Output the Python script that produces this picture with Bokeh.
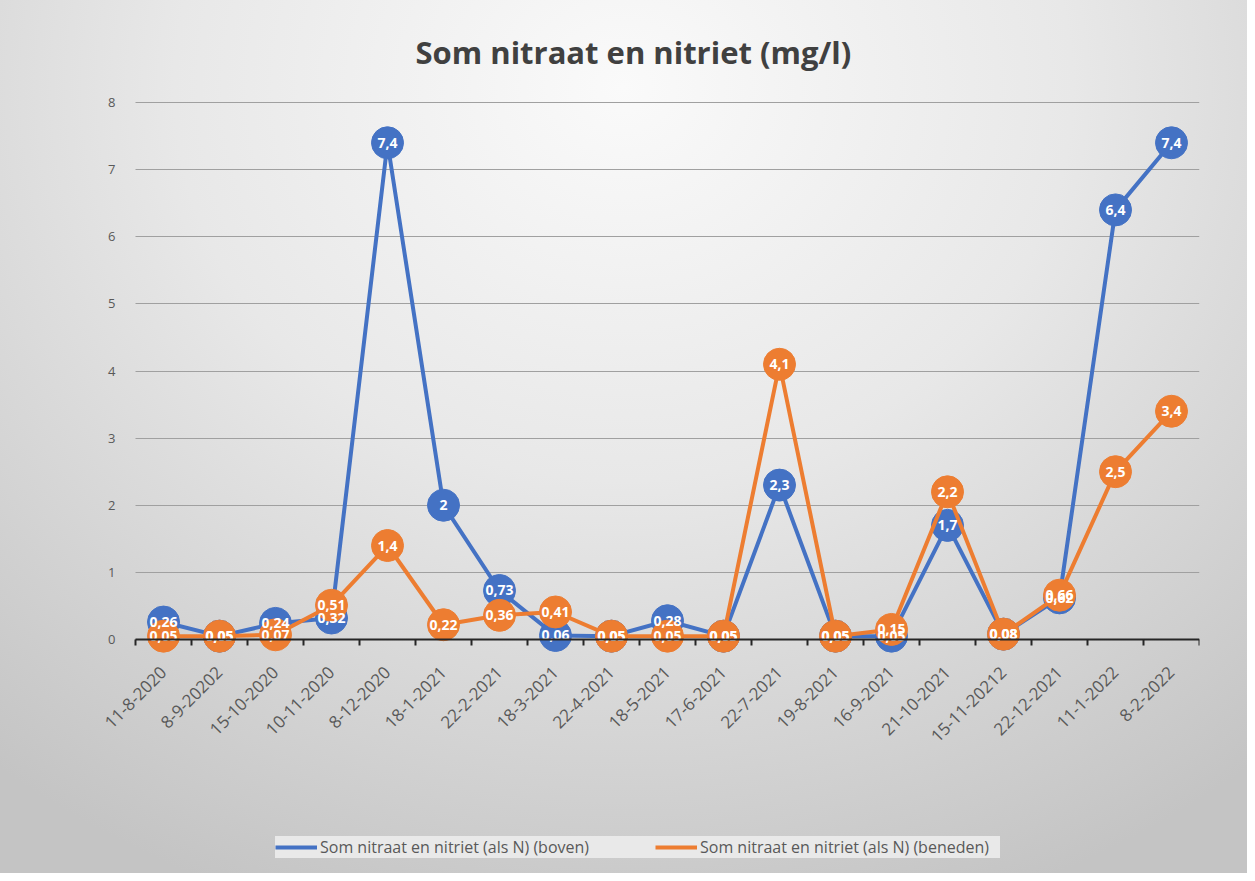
import math
from bokeh.plotting import figure
from bokeh.models import Range1d, FixedTicker, Legend, LegendItem
from bokeh.embed import file_html
from bokeh.resources import INLINE
from bokeh.core.properties import value

categories = ["11-8-2020", "8-9-20202", "15-10-2020", "10-11-2020", "8-12-2020",
              "18-1-2021", "22-2-2021", "18-3-2021", "22-4-2021", "18-5-2021",
              "17-6-2021", "22-7-2021", "19-8-2021", "16-9-2021", "21-10-2021",
              "15-11-20212", "22-12-2021", "11-1-2022", "8-2-2022"]
boven = [0.26, 0.05, 0.24, 0.32, 7.4, 2, 0.73, 0.06, 0.05, 0.28,
         0.05, 2.3, 0.05, 0.05, 1.7, 0.08, 0.62, 6.4, 7.4]
beneden = [0.05, 0.05, 0.07, 0.51, 1.4, 0.22, 0.36, 0.41, 0.05, 0.05,
           0.05, 4.1, 0.05, 0.15, 2.2, 0.08, 0.66, 2.5, 3.4]
y_ticks = [0, 1, 2, 3, 4, 5, 6, 7, 8]
series_names = ["Som nitraat en nitriet (als N) (boven)",
                "Som nitraat en nitriet (als N) (beneden)"]

BLUE = "#4472C4"
ORANGE = "#ED7D31"
FONT = "Open Sans"


def fmt(v):
    return ("%g" % v).replace(".", ",")


n = len(categories)
xs = list(range(n))

# layout (figure pixels)
W, H = 1247, 873
TOP, BOTTOM = 92, 10
LEFT = 10
AX_LEFT, AX_RIGHT, AX_TOP, AX_ZERO = 135, 1199, 102, 639
RIGHT = W - AX_RIGHT
px_per_unit = (AX_ZERO - AX_TOP) / y_ticks[-1]
px_per_cat = (AX_RIGHT - AX_LEFT) / n
y_end = y_ticks[-1] + (AX_TOP - TOP) / px_per_unit
y_start = y_end - (H - TOP - BOTTOM) / px_per_unit
x_start = -0.5 - (AX_LEFT - LEFT) / px_per_cat

p = figure(width=W, height=H, output_backend="svg", toolbar_location=None,
           x_range=Range1d(x_start, n - 0.5), y_range=Range1d(y_start, y_end),
           min_border_left=LEFT, min_border_right=RIGHT, min_border_top=TOP,
           min_border_bottom=BOTTOM)

p.background_fill_alpha = 0
p.border_fill_alpha = 0
p.outline_line_color = None
p.styles = {"background": "radial-gradient(ellipse 80% 100% at 50% 10%, #fafafa 0%, #e8e8e8 45%, #c4c4c4 100%)"}

p.title.text = "Som nitraat en nitriet (mg/l)"
p.title.align = "left"
p.title.offset = 405
p.title.text_font = FONT
p.title.text_font_size = "31px"
p.title.text_font_style = "bold"
p.title.text_color = "#404040"
p.title.standoff = 40

p.xgrid.visible = False
p.ygrid.ticker = FixedTicker(ticks=y_ticks)
p.ygrid.cross_bounds = (-0.5, n - 0.5)
p.ygrid.grid_line_color = "#a0a0a0"
p.ygrid.grid_line_width = 1

p.yaxis.ticker = FixedTicker(ticks=y_ticks)
p.yaxis.fixed_location = -0.5
p.yaxis.axis_line_color = None
p.yaxis.major_tick_line_color = None
p.yaxis.minor_tick_line_color = None
p.yaxis.major_label_text_font = FONT
p.yaxis.major_label_text_font_size = "13px"
p.yaxis.major_label_text_color = "#595959"
p.yaxis.major_label_standoff = 14

p.xaxis.ticker = FixedTicker(ticks=xs, minor_ticks=[i - 0.5 for i in range(n + 1)])
p.xaxis.bounds = (-0.5, n - 0.5)
p.xaxis.major_label_overrides = {i: c for i, c in enumerate(categories)}
p.xaxis.major_tick_in = 0
p.xaxis.major_tick_out = 0
p.xaxis.minor_tick_in = 0
p.xaxis.minor_tick_out = 6
p.xaxis.minor_tick_line_color = "#262626"
p.xaxis.minor_tick_line_width = 2
p.xaxis.axis_line_color = "#262626"
p.xaxis.axis_line_width = 2
p.xaxis.major_label_orientation = math.pi / 4
p.xaxis.major_label_text_font = FONT
p.xaxis.major_label_text_font_size = "17px"
p.xaxis.major_label_text_color = "#595959"
p.xaxis.major_label_standoff = 24
p.xaxis.fixed_location = 0

lb = p.line(xs, boven, line_color=BLUE, line_width=4)
p.scatter(xs, boven, size=32, fill_color=BLUE, line_color=BLUE)
lo = p.line(xs, beneden, line_color=ORANGE, line_width=4)
p.scatter(xs, beneden, size=32, fill_color=ORANGE, line_color=ORANGE)

for vals in (boven, beneden):
    p.text(xs, vals, text=[fmt(v) for v in vals], text_color="white",
           text_font=value(FONT), text_font_size="14px", text_font_style="bold",
           text_align="center", text_baseline="middle")

pb = p.scatter(x=[], y=[], size=9, fill_color=BLUE, line_color=BLUE)
po = p.scatter(x=[], y=[], size=9, fill_color=ORANGE, line_color=ORANGE)

legend = Legend(items=[LegendItem(label=series_names[0], renderers=[lb, pb]),
                       LegendItem(label=series_names[1], renderers=[lo, po])],
                orientation="horizontal", location=(265, 5),
                glyph_width=42, glyph_height=20, label_standoff=3, spacing=35,
                label_width=300, padding=8,
                background_fill_color="#e9e9e9", background_fill_alpha=1,
                border_line_color=None, label_text_font=FONT,
                label_text_font_size="16px", label_text_color="#595959")
p.add_layout(legend)

open("out.html", "w").write(file_html(p, INLINE))
